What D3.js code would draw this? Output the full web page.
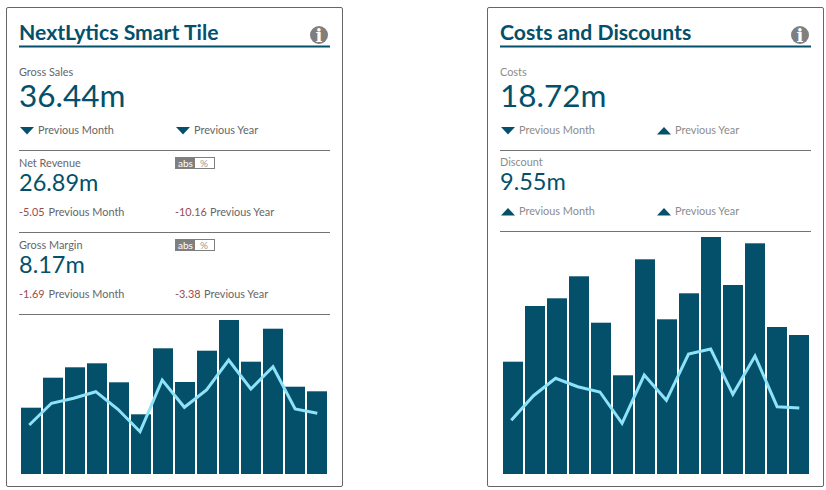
<!DOCTYPE html>
<html>
<head>
<meta charset="utf-8">
<script src="https://cdn.jsdelivr.net/npm/d3@7/dist/d3.min.js"></script>
<style>
  html, body { margin: 0; padding: 0; background: #fff; }
  svg { display: block; }
  text { font-family: Lato, sans-serif; }
  text.info { font-family: "DejaVu Serif", serif; }
</style>
</head>
<body>
<div id="main"></div>
<script>
var periods = ["P01","P02","P03","P04","P05","P06","P07","P08","P09","P10","P11","P12","P13","P14"];

// left tile
var salesBars = [66.3, 96.3, 106.7, 110.7, 91.7, 59.7, 125.7, 92, 123.3, 154, 112.3, 145.3, 87.3, 82.7];
var salesLine = [49, 70.7, 75.7, 82.3, 64.7, 42.3, 94, 66.7, 84, 114, 85, 107.3, 65, 60.7];

// right tile
var costBars = [112.3, 168, 175.7, 197.7, 151.3, 98.7, 214.7, 154.7, 180.7, 237, 189, 230.7, 147, 139];
var costLine = [53.7, 78.3, 95.7, 87.3, 82, 50.7, 99, 73.7, 120, 125, 79.7, 118, 67.3, 66];

var titles = ["NextLytics Smart Tile", "Costs and Discounts"];
var prevMonth = "Previous Month";
var prevYear = "Previous Year";

var dark = "#04506a", greyText = "#666666", lightText = "#8c8c8c", red = "#9c4a4c", rule = "#737373";
var small = 10.9, mid = 23.5, big = 31.5;

var SVG = d3.select("#main").append("svg")
  .attr("width", 826)
  .attr("height", 490);

function label(g, x, y, txt, size, color, weight) {
  return g.append("text")
    .attr("x", x).attr("y", y)
    .attr("font-size", size)
    .attr("fill", color)
    .attr("font-weight", weight || 400)
    .text(txt);
}

function hline(g, y) {
  g.append("rect").attr("x", 19).attr("y", y).attr("width", 311).attr("height", 1).attr("fill", rule);
}

function arrow(g, x, y, up) {
  var p = up ? [[x, y + 7.5], [x + 14, y + 7.5], [x + 7, y]] : [[x, y], [x + 14, y], [x + 7, y + 7.5]];
  g.append("path").attr("d", d3.line()(p) + "Z").attr("fill", dark);
}

function toggle(g, y) {
  g.append("rect").attr("x", 175.5).attr("y", y + 0.5).attr("width", 39).attr("height", 11)
    .attr("fill", "#fff").attr("stroke", "#7f7f7f");
  g.append("rect").attr("x", 175).attr("y", y).attr("width", 20).attr("height", 12).attr("fill", "#7f7f7f");
  label(g, 178, y + 9.5, "abs", 10, "#fff", 400);
  label(g, 200, y + 9.5, "%", 10, "#9a9a9a");
}

function tile(offset, title, bars, line, shift) {
  var g = SVG.append("g").attr("transform", "translate(" + offset + ",0)");

  g.append("rect").attr("x", 6.5).attr("y", 7.5).attr("width", 336).attr("height", 479).attr("rx", 1.5)
    .attr("fill", "#fff").attr("stroke", "#666");

  label(g, 19, 40, title, 21.2, dark, 700);
  g.append("rect").attr("x", 19).attr("y", 45.5).attr("width", 311).attr("height", 2).attr("fill", dark);

  g.append("circle").attr("cx", 319).attr("cy", 35).attr("r", 9).attr("fill", "#7f7f7f");
  g.append("text").attr("class", "info").attr("x", 319).attr("y", 41.5).attr("text-anchor", "middle")
    .attr("font-size", 18).attr("font-weight", 700).attr("fill", "#fff").text("i");

  var x = d3.scaleBand()
    .domain(periods)
    .range([20 + shift, 328 + shift])
    .paddingInner(2 / 22)
    .paddingOuter(1 / 22);

  // the line sits on its own point scale, not quite on the bar centres
  var xLine = d3.scalePoint()
    .domain(periods)
    .range([29.3 + shift, 317.3 + shift]);

  var y = d3.scaleLinear()
    .domain([0, d3.max(bars)])
    .range([474, 474 - d3.max(bars)]);

  g.append("g").selectAll("rect")
    .data(periods)
    .enter()
    .append("rect")
      .attr("x", function (d) { return x(d); })
      .attr("y", function (d, i) { return y(bars[i]); })
      .attr("width", x.bandwidth())
      .attr("height", function (d, i) { return y(0) - y(bars[i]); })
      .attr("fill", dark);

  var path = d3.line()
    .x(function (d, i) { return xLine(periods[i]); })
    .y(function (d) { return y(d); });

  g.append("path")
    .attr("d", path(line))
    .attr("fill", "none")
    .attr("stroke", "#8fe3f9")
    .attr("stroke-width", 3);

  return g;
}

// left tile text
var a = tile(0, titles[0], salesBars, salesLine, 0);
label(a, 19, 76, "Gross Sales", small, greyText);
label(a, 19, 107, "36.44m", big, dark);
arrow(a, 20, 127, false);
label(a, 38, 134, prevMonth, small, greyText);
arrow(a, 176, 127, false);
label(a, 194, 134, prevYear, small, greyText);
hline(a, 150);
label(a, 19, 167, "Net Revenue", small, greyText);
toggle(a, 157);
label(a, 19, 191, "26.89m", mid, dark);
label(a, 19, 216, "-5.05", small, red);
label(a, 48.5, 216, prevMonth, small, greyText);
label(a, 175, 216, "-10.16", small, red);
label(a, 210, 216, prevYear, small, greyText);
hline(a, 232);
label(a, 19, 249, "Gross Margin", small, greyText);
toggle(a, 239);
label(a, 19, 273, "8.17m", mid, dark);
label(a, 19, 298, "-1.69", small, red);
label(a, 48.5, 298, prevMonth, small, greyText);
label(a, 175, 298, "-3.38", small, red);
label(a, 204, 298, prevYear, small, greyText);
hline(a, 314);

// right tile text
var b = tile(481, titles[1], costBars, costLine, 1);
label(b, 19, 76, "Costs", small, lightText);
label(b, 19, 107, "18.72m", big, dark);
arrow(b, 20, 127, false);
label(b, 38, 134, prevMonth, small, lightText);
arrow(b, 176, 127, true);
label(b, 194, 134, prevYear, small, lightText);
hline(b, 150);
label(b, 19, 166, "Discount", small, lightText);
label(b, 19, 190, "9.55m", mid, dark);
arrow(b, 20, 208, true);
label(b, 38, 215, prevMonth, small, lightText);
arrow(b, 176, 208, true);
label(b, 194, 215, prevYear, small, lightText);
hline(b, 231);
</script>
</body>
</html>
